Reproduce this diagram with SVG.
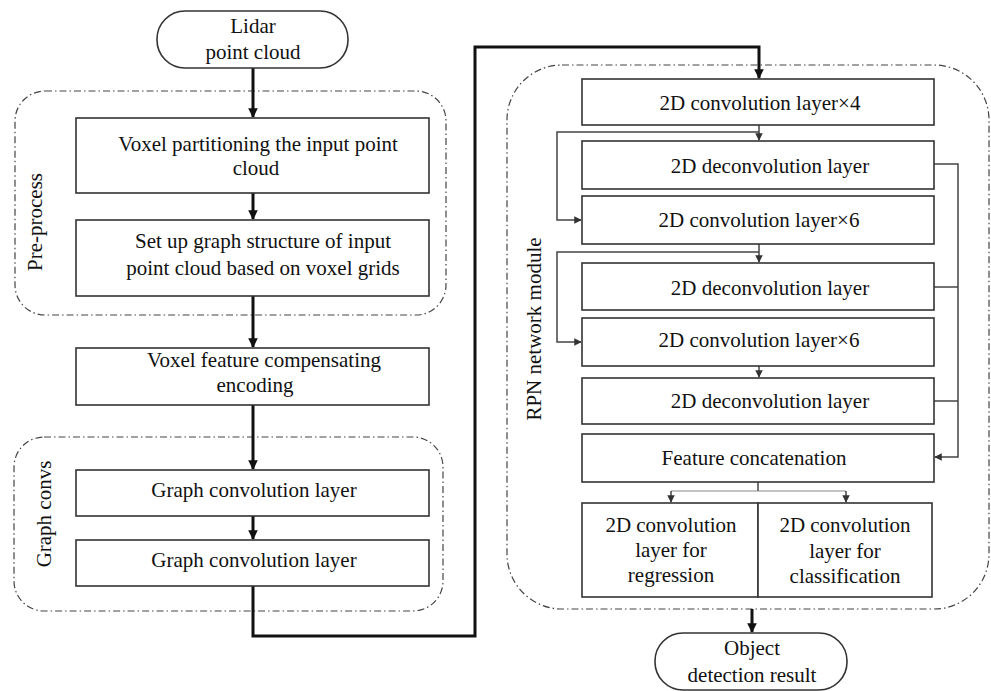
<svg xmlns="http://www.w3.org/2000/svg" width="991" height="691" viewBox="0 0 991 691">
<style>
text{font-family:"Liberation Serif","Times New Roman",serif;font-size:21px;fill:#111;text-anchor:middle}
.box{fill:#fff;stroke:#333;stroke-width:1.6}
.grp{fill:none;stroke:#444;stroke-width:1.2;stroke-dasharray:7 3 1.5 3}
.heavy{fill:none;stroke:#111;stroke-width:3}
.thin{fill:none;stroke:#444;stroke-width:1.5}
.gray{fill:none;stroke:#888;stroke-width:1.2}
</style>
<defs>
<marker id="ah" viewBox="0 0 10 10" refX="9" refY="5" markerWidth="3.2" markerHeight="3.4" orient="auto" markerUnits="strokeWidth"><path d="M0,0 L10,5 L0,10 z" fill="#111"/></marker>
<marker id="as" viewBox="0 0 10 10" refX="9" refY="5" markerWidth="5" markerHeight="5" orient="auto" markerUnits="strokeWidth"><path d="M0,0 L10,5 L0,10 z" fill="#333"/></marker>
</defs>

<g id="groups">
<rect class="grp" x="15" y="91" width="431" height="224" rx="30"/>
<rect class="grp" x="14" y="437" width="429" height="174" rx="30"/>
<rect class="grp" x="507" y="65" width="482" height="544" rx="55"/>
<text transform="translate(42,222) rotate(-90)">Pre-process</text>
<text transform="translate(51,514) rotate(-90)">Graph convs</text>
<text transform="translate(541,329) rotate(-90)">RPN network module</text>
</g>

<g id="connectors">
<line class="heavy" x1="253" y1="68" x2="253" y2="117" marker-end="url(#ah)"/>
<line class="heavy" x1="253" y1="193" x2="253" y2="219" marker-end="url(#ah)"/>
<line class="heavy" x1="253" y1="296" x2="253" y2="347" marker-end="url(#ah)"/>
<line class="heavy" x1="253" y1="405" x2="253" y2="469" marker-end="url(#ah)"/>
<line class="heavy" x1="253" y1="516" x2="253" y2="539" marker-end="url(#ah)"/>
<polyline class="heavy" points="253,586 253,636 475,636 475,47 759,47 759,78" marker-end="url(#ah)"/>
<line class="thin" x1="759" y1="125" x2="759" y2="140" marker-end="url(#as)"/>
<polyline class="thin" points="759,132 557,132 557,220 581,220" marker-end="url(#as)"/>
<line class="thin" x1="759" y1="244" x2="759" y2="262" marker-end="url(#as)"/>
<polyline class="thin" points="759,252 557,252 557,342 581,342" marker-end="url(#as)"/>
<line class="thin" x1="759" y1="366" x2="759" y2="377" marker-end="url(#as)"/>
<polyline class="thin" points="934,164 958,164 958,457 935,457" marker-end="url(#as)"/>
<line class="thin" x1="934" y1="287" x2="958" y2="287"/>
<line class="thin" x1="934" y1="401" x2="958" y2="401"/>
<line class="thin" x1="758" y1="482" x2="758" y2="491"/>
<line class="gray" x1="671" y1="491" x2="846" y2="491"/>
<line class="thin" x1="671" y1="491" x2="671" y2="502" marker-end="url(#as)"/>
<line class="thin" x1="846" y1="491" x2="846" y2="502" marker-end="url(#as)"/>
<line class="heavy" x1="752" y1="609" x2="752" y2="632" marker-end="url(#ah)"/>
</g>

<g id="lidar">
<rect class="box" x="157" y="11" width="191" height="57" rx="28"/>
<text x="253" y="33">Lidar</text>
<text x="253" y="59">point cloud</text>
</g>
<g id="voxel-partition">
<rect class="box" x="76" y="118" width="353" height="75"/>
<text x="258" y="151">Voxel partitioning the input point</text>
<text x="256" y="175">cloud</text>
</g>
<g id="graph-structure">
<rect class="box" x="76" y="220" width="353" height="76"/>
<text x="263" y="248">Set up graph structure of input</text>
<text x="263" y="275">point cloud based on voxel grids</text>
</g>
<g id="voxel-feature">
<rect class="box" x="76" y="348" width="353" height="57"/>
<text x="264" y="367">Voxel feature compensating</text>
<text x="255" y="392">encoding</text>
</g>
<g id="graph-conv-1">
<rect class="box" x="76" y="470" width="353" height="46"/>
<text x="254" y="497">Graph convolution layer</text>
</g>
<g id="graph-conv-2">
<rect class="box" x="76" y="540" width="353" height="46"/>
<text x="254" y="567">Graph convolution layer</text>
</g>

<g id="conv4">
<rect class="box" x="582" y="79" width="352" height="46"/>
<text x="760" y="110">2D convolution layer×4</text>
</g>
<g id="deconv1">
<rect class="box" x="582" y="141" width="352" height="48"/>
<text x="770" y="173">2D deconvolution layer</text>
</g>
<g id="conv6a">
<rect class="box" x="582" y="196" width="352" height="48"/>
<text x="759" y="227">2D convolution layer×6</text>
</g>
<g id="deconv2">
<rect class="box" x="582" y="263" width="352" height="47"/>
<text x="770" y="295">2D deconvolution layer</text>
</g>
<g id="conv6b">
<rect class="box" x="582" y="318" width="352" height="48"/>
<text x="759" y="347">2D convolution layer×6</text>
</g>
<g id="deconv3">
<rect class="box" x="582" y="378" width="352" height="46"/>
<text x="770" y="408">2D deconvolution layer</text>
</g>
<g id="concat">
<rect class="box" x="582" y="434" width="352" height="48"/>
<text x="754" y="465">Feature concatenation</text>
</g>
<g id="regression">
<rect class="box" x="582" y="503" width="176" height="94"/>
<text x="671" y="532">2D convolution</text>
<text x="671" y="557">layer for</text>
<text x="671" y="582">regression</text>
</g>
<g id="classification">
<rect class="box" x="758" y="503" width="174" height="94"/>
<text x="845" y="532">2D convolution</text>
<text x="845" y="558">layer for</text>
<text x="845" y="583">classification</text>
</g>
<g id="result">
<rect class="box" x="655" y="633" width="192" height="57" rx="28"/>
<text x="752" y="655">Object</text>
<text x="752" y="682">detection result</text>
</g>
</svg>
